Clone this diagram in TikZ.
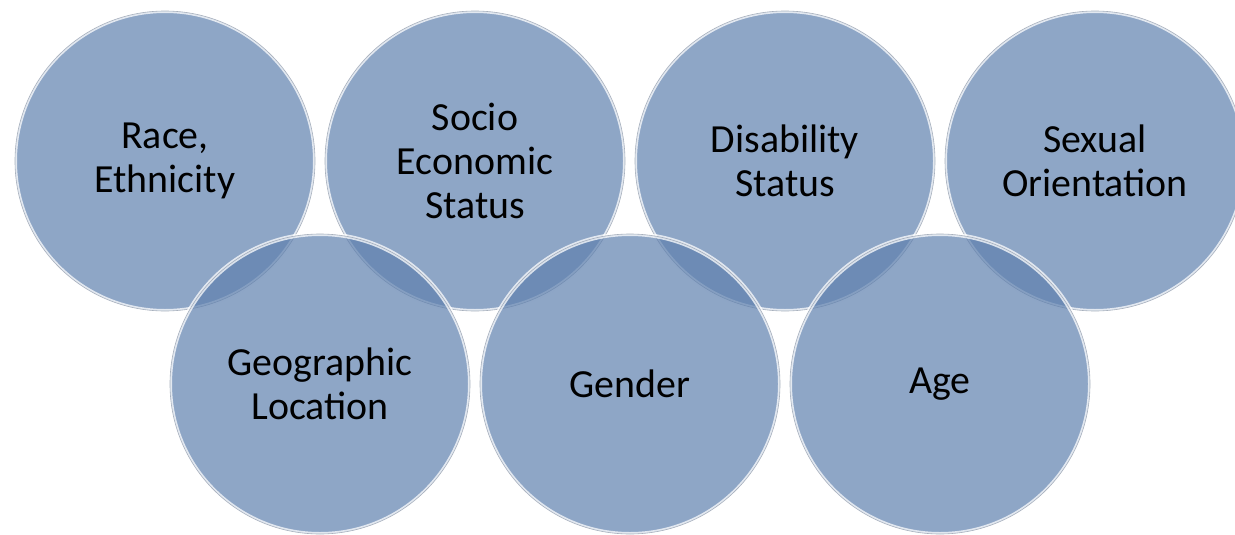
\documentclass[tikz,border=0pt]{standalone}
\usepackage{fontspec}
\setmainfont{Carlito}
\usetikzlibrary{positioning}
\definecolor{bubblefill}{RGB}{94,128,174}
\definecolor{bubbleedge}{RGB}{150,160,175}

\tikzset{
  bubble/.style={circle,minimum size=300bp,inner sep=0pt,align=center,
    fill=bubblefill,fill opacity=0.7,text opacity=1,
    draw=white,draw opacity=0.75,line width=4bp,
    postaction={draw=bubbleedge,draw opacity=0.8,line width=0.6bp},
    font=\fontsize{40}{44}\selectfont},
}

\begin{document}
\begin{tikzpicture}

\useasboundingbox (0bp,0bp) rectangle (1235bp,-535bp);

\node (race) at (165bp,-161bp)[bubble] {Race,\\Ethnicity};
\node (socio) at (475bp,-161bp)[bubble] {Socio\\Economic\\Status};
\node (disab) at (785bp,-161bp)[bubble] {Disability\\Status};
\node (sexual) at (1095bp,-161bp)[bubble] {Sexual\\Orientation};
\node (geo) at (320bp,-384bp)[bubble] {Geographic\\Location};
\node (gender) at (630bp,-384bp)[bubble] {Gender};
\node (age) at (940bp,-384bp)[bubble] {Age};
\end{tikzpicture}
\end{document}
